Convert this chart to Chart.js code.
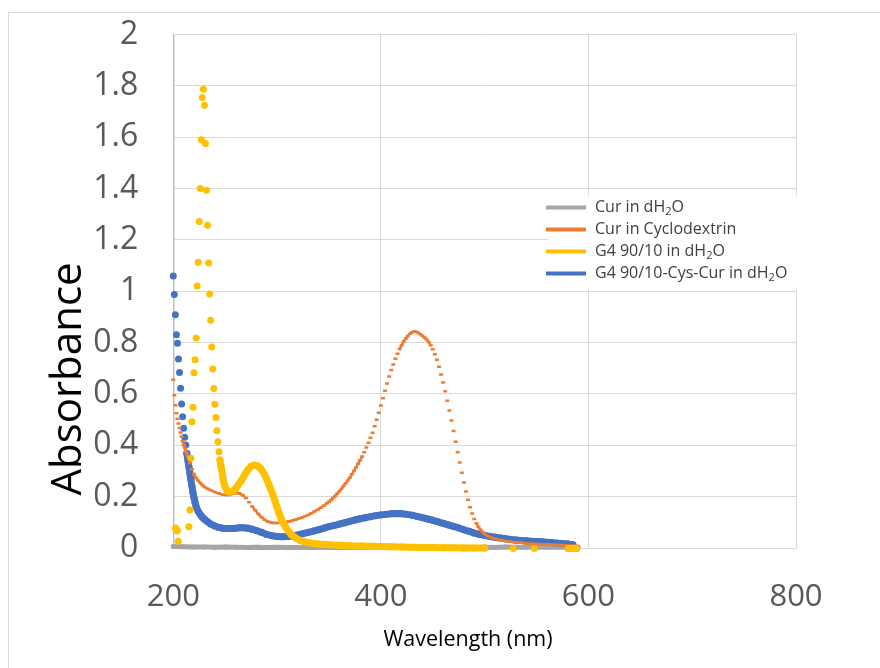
<!DOCTYPE html>
<html>
<head>
<meta charset="utf-8">
<script src="https://cdn.jsdelivr.net/npm/chart.js@4.4.1/dist/chart.umd.min.js"></script>
<style>
  html, body { margin: 0; padding: 0; background: #fff; }
  canvas { display: block; }
</style>
</head>
<body>
<canvas id="chart" width="880" height="668"></canvas>
<script>
// ===== DATA =====
const seriesNames  = ['Cur in dH₂O', 'Cur in Cyclodextrin', 'G4 90/10 in dH₂O', 'G4 90/10-Cys-Cur in dH₂O'];
const seriesColors = ['#A5A5A5', '#ED7D31', '#FFC000', '#4472C4'];
const xTitle = 'Wavelength (nm)';
const yTitle = 'Absorbance';

// Cur in dH2O
const grayNm  = [200, 210, 220, 230, 240, 250, 260, 270, 280, 290, 300, 310, 320, 330, 340, 350, 360, 370, 380, 390,
                 400, 410, 420, 430, 440, 450, 460, 470, 480, 490, 500, 510, 520, 530, 540, 550, 560, 570, 580, 590];
const grayAbs = [0.006, 0.005, 0.004, 0.004, 0.003, 0.004, 0.003, 0.002, 0.003, 0.002, 0.003, 0.002, 0.002, 0.003, 0.002, 0.002, 0.003, 0.002, 0.002, 0.003,
                 0.002, 0.003, 0.002, 0.002, 0.003, 0.002, 0.003, 0.002, 0.003, 0.002, 0.003, 0.002, 0.004, 0.003, 0.003, 0.004, 0.003, 0.004, 0.003, 0.002];

// Cur in Cyclodextrin
const orangeNm  = [200, 201, 202, 203, 204, 205, 206, 207, 208, 209, 210, 211, 212, 213, 214, 216, 218, 220, 222, 224,
                   226, 228, 230, 233, 236, 240, 244, 248, 252, 255, 258, 261, 264, 267, 270, 273, 276, 279, 282, 285,
                   288, 291, 294, 297, 300, 303, 306, 309, 312, 315, 318, 321, 324, 327, 330, 333, 336, 339, 342, 345,
                   348, 350, 352, 354, 356, 358, 360, 362, 364, 366, 368, 370, 372, 374, 376, 378, 380, 382, 384, 386,
                   388, 390, 392, 394, 396, 398, 400, 402, 404, 406, 408, 410, 412, 414, 416, 418, 420, 422, 424, 426,
                   428, 430, 432, 434, 436, 438, 440, 442, 444, 446, 448, 450, 452, 454, 456, 458, 460, 462, 464, 466,
                   468, 470, 472, 474, 476, 478, 480, 482, 484, 486, 488, 490, 492, 494, 496, 498, 500, 503, 506, 510,
                   515, 520, 525, 530, 535, 540, 545, 550, 555, 560, 565, 570, 575, 580, 585, 590];
const orangeAbs = [0.655, 0.595, 0.556, 0.525, 0.503, 0.485, 0.467, 0.450, 0.434, 0.416, 0.402, 0.390, 0.378, 0.366, 0.354, 0.331, 0.307, 0.288, 0.273, 0.262,
                   0.253, 0.245, 0.238, 0.231, 0.225, 0.218, 0.212, 0.207, 0.206, 0.208, 0.212, 0.214, 0.212, 0.205, 0.195, 0.178, 0.162, 0.147, 0.132, 0.120,
                   0.110, 0.103, 0.099, 0.097, 0.097, 0.098, 0.100, 0.102, 0.104, 0.107, 0.111, 0.115, 0.119, 0.124, 0.129, 0.135, 0.142, 0.149, 0.157, 0.165,
                   0.174, 0.180, 0.187, 0.195, 0.203, 0.212, 0.221, 0.231, 0.241, 0.251, 0.262, 0.274, 0.287, 0.300, 0.314, 0.328, 0.342, 0.356, 0.373, 0.391,
                   0.410, 0.429, 0.449, 0.474, 0.500, 0.527, 0.555, 0.583, 0.612, 0.641, 0.668, 0.693, 0.715, 0.737, 0.757, 0.775, 0.790, 0.804, 0.816, 0.826,
                   0.834, 0.840, 0.843, 0.842, 0.838, 0.833, 0.827, 0.820, 0.812, 0.802, 0.790, 0.774, 0.755, 0.733, 0.706, 0.676, 0.645, 0.611, 0.574, 0.536,
                   0.497, 0.456, 0.414, 0.373, 0.333, 0.293, 0.255, 0.220, 0.188, 0.159, 0.134, 0.113, 0.096, 0.082, 0.071, 0.062, 0.055, 0.047, 0.041, 0.036,
                   0.031, 0.027, 0.024, 0.022, 0.020, 0.018, 0.017, 0.016, 0.015, 0.014, 0.013, 0.012, 0.011, 0.010, 0.009, 0.008];

// G4 90/10 in dH2O
const yellowNm  = [202.3, 203.8, 204.8, 215, 216, 217, 218, 219, 220, 221, 222, 223, 224, 225, 226, 227, 228, 229, 230, 231,
                   232, 233, 234, 235, 236, 237, 238, 239, 240, 241, 242, 243, 244, 245, 246, 247, 248, 249, 250, 252,
                   254, 256, 258, 260, 263, 266, 269, 272, 275, 278, 281, 284, 286, 288, 290, 292, 294, 296, 298, 300,
                   302, 304, 306, 308, 311, 314, 318, 322, 326, 330, 335, 340, 350, 360, 370, 380, 390, 400, 410, 420,
                   430, 440, 450, 460, 470, 480, 490, 500, 527.5, 547.8, 580.5, 588.6];
const yellowAbs = [0.077, 0.067, 0.026, 0.083, 0.148, 0.350, 0.492, 0.548, 0.683, 0.733, 0.818, 1.020, 1.113, 1.272, 1.400, 1.590, 1.755, 1.787, 1.724, 1.575,
                   1.393, 1.257, 1.110, 0.989, 0.887, 0.783, 0.697, 0.621, 0.560, 0.508, 0.457, 0.414, 0.375, 0.343, 0.317, 0.297, 0.268, 0.250, 0.237, 0.222,
                   0.218, 0.219, 0.224, 0.232, 0.248, 0.265, 0.287, 0.305, 0.318, 0.323, 0.320, 0.311, 0.299, 0.286, 0.268, 0.248, 0.228, 0.207, 0.183, 0.158,
                   0.134, 0.114, 0.097, 0.083, 0.065, 0.051, 0.039, 0.030, 0.025, 0.021, 0.018, 0.016, 0.013, 0.011, 0.009, 0.008, 0.007, 0.006, 0.005, 0.004,
                   0.003, 0.002, 0.002, 0.001, 0.001, 0.000, 0.000, 0.000, -0.002, -0.002, -0.002, -0.002];

// G4 90/10-Cys-Cur in dH2O
const blueNm  = [200, 201, 202, 203, 204, 205, 206, 207, 208, 209, 210, 211, 212, 213, 214, 215, 216, 217, 218, 219,
                 220, 221, 222, 224, 226, 228, 230, 233, 236, 240, 244, 248, 252, 256, 260, 264, 268, 272, 276, 280,
                 285, 290, 295, 300, 305, 310, 315, 320, 325, 330, 335, 340, 345, 350, 355, 360, 365, 370, 375, 380,
                 385, 390, 395, 400, 405, 410, 415, 420, 425, 430, 435, 440, 445, 450, 455, 460, 465, 470, 475, 480,
                 485, 490, 495, 500, 505, 510, 515, 520, 525, 530, 535, 540, 545, 550, 555, 560, 565, 570, 575, 580, 585];
const blueAbs = [1.059, 0.987, 0.908, 0.831, 0.797, 0.736, 0.684, 0.622, 0.561, 0.511, 0.466, 0.431, 0.401, 0.369, 0.343, 0.317, 0.291, 0.265, 0.240, 0.215,
                 0.195, 0.177, 0.161, 0.142, 0.130, 0.120, 0.112, 0.102, 0.093, 0.086, 0.080, 0.077, 0.076, 0.076, 0.077, 0.079, 0.079, 0.077, 0.073, 0.068,
                 0.061, 0.053, 0.048, 0.045, 0.044, 0.045, 0.047, 0.051, 0.056, 0.061, 0.066, 0.071, 0.077, 0.083, 0.088, 0.093, 0.098, 0.104, 0.109, 0.114,
                 0.118, 0.122, 0.126, 0.129, 0.131, 0.133, 0.134, 0.133, 0.131, 0.128, 0.123, 0.118, 0.113, 0.108, 0.102, 0.096, 0.090, 0.084, 0.078, 0.071,
                 0.065, 0.058, 0.053, 0.049, 0.045, 0.042, 0.039, 0.036, 0.033, 0.031, 0.029, 0.028, 0.026, 0.025, 0.024, 0.022, 0.021, 0.019, 0.018, 0.016, 0.013];

// ===== HELPERS =====
const toPoints = (nm, abs) => nm.map((x, i) => ({ x, y: abs[i] }));

// Excel draws markers only; where neighbouring markers sit far apart we leave
// the joining stroke out so they read as separate dots
const hideLongSegments = (limitY, limitX = 14) => ({
  borderColor: ctx => (Math.abs(ctx.p1.y - ctx.p0.y) > limitY || Math.abs(ctx.p1.x - ctx.p0.x) > limitX)
    ? 'rgba(0,0,0,0)' : undefined
});

function dotSeries(i, nm, abs, width, limitY, order) {
  return {
    label: seriesNames[i],
    data: toPoints(nm, abs),
    showLine: true,
    borderColor: seriesColors[i],
    borderWidth: width,
    borderCapStyle: 'round',
    borderJoinStyle: 'round',
    pointRadius: width / 2,
    pointBackgroundColor: seriesColors[i],
    pointBorderWidth: 0,
    segment: hideLongSegments(limitY),
    clip: 8,
    order
  };
}

// text with a subscript "2"
function drawRichText(ctx, text, x, y, size) {
  const parts = text.split('₂');
  parts.forEach((p, k) => {
    ctx.font = size + 'px "Open Sans"';
    ctx.fillText(p, x, y);
    x += ctx.measureText(p).width;
    if (k < parts.length - 1) {
      ctx.font = Math.round(size * 0.68) + 'px "Open Sans"';
      ctx.fillText('2', x, y + size * 0.28);
      x += ctx.measureText('2').width;
    }
  });
}

const decorations = {
  id: 'decorations',
  afterDraw(chart) {
    const ctx = chart.ctx;
    ctx.save();

    // outer chart frame
    ctx.strokeStyle = '#d9d9d9';
    ctx.lineWidth = 1;
    ctx.strokeRect(8.5, 12.5, 1000, 1000);

    // axis titles
    ctx.fillStyle = '#000';
    ctx.textAlign = 'center';
    ctx.textBaseline = 'alphabetic';
    ctx.font = '21.5px "Open Sans"';
    ctx.fillText(xTitle, 468, 646);
    ctx.save();
    ctx.translate(81, 379);
    ctx.rotate(-Math.PI / 2);
    ctx.font = '42px "Open Sans"';
    ctx.fillText(yTitle, 0, 0);
    ctx.restore();

    // legend box
    ctx.fillStyle = '#fff';
    ctx.fillRect(548, 195, 256, 94);
    ctx.textAlign = 'left';
    ctx.textBaseline = 'middle';
    seriesNames.forEach((name, i) => {
      const y = 207.5 + i * 22;
      ctx.strokeStyle = seriesColors[i];
      ctx.lineWidth = 4;
      ctx.lineCap = 'butt';
      ctx.beginPath();
      ctx.moveTo(546, y);
      ctx.lineTo(586, y);
      ctx.stroke();
      ctx.fillStyle = '#404040';
      drawRichText(ctx, name, 595, y, 16);
    });
    ctx.restore();
  }
};

function draw() {
  Chart.defaults.font.family = '"Open Sans", sans-serif';

  new Chart(document.getElementById('chart'), {
    type: 'scatter',
    data: {
      datasets: [
        dotSeries(0, grayNm, grayAbs, 5, 12, 4),
        {
          label: seriesNames[1],
          data: toPoints(orangeNm, orangeAbs),
          showLine: true,
          borderColor: seriesColors[1],
          borderWidth: 2.5,
          borderCapStyle: 'round',
          pointStyle: 'line',
          pointRadius: 2,
          pointBorderWidth: 2.5,
          pointBorderColor: seriesColors[1],
          segment: hideLongSegments(4),
          clip: 8,
          order: 2
        },
        dotSeries(2, yellowNm, yellowAbs, 7, 7.5, 1),
        dotSeries(3, blueNm, blueAbs, 7, 7.5, 3)
      ]
    },
    options: {
      responsive: false,
      animation: false,
      devicePixelRatio: 1,
      events: [],
      layout: { padding: { left: 10, right: 84, top: 34.5, bottom: 0 } },
      plugins: { legend: { display: false }, tooltip: { enabled: false } },
      scales: {
        x: {
          type: 'linear',
          min: 200, max: 800,
          afterFit: s => { s.height = 120; s.paddingLeft = 0; s.paddingRight = 0; },
          ticks: { stepSize: 200, color: '#595959', font: { size: 31 }, padding: 31 },
          grid: { color: '#d9d9d9', drawTicks: false },
          border: { color: '#d9d9d9' }
        },
        y: {
          min: 0, max: 2,
          // fixed axis box so the plot area lands where the original has it
          afterFit: s => { s.width = 163.3; s.paddingTop = 0; s.paddingBottom = 0; },
          ticks: {
            stepSize: 0.2, color: '#595959', font: { size: 32 }, padding: 35,
            callback: v => String(Math.round(v * 10) / 10)
          },
          grid: { color: '#d9d9d9', drawTicks: false },
          border: { color: '#bfbfbf', width: 1.5 }
        }
      }
    },
    plugins: [decorations]
  });
}

document.fonts.load('30px "Open Sans"').then(draw, draw);
</script>
</body>
</html>
